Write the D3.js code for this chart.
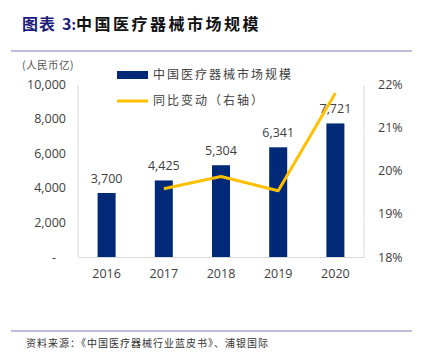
<!DOCTYPE html>
<html>
<head>
<meta charset="utf-8">
<script src="https://cdn.jsdelivr.net/npm/d3@7/dist/d3.min.js"></script>
<style>
  body { margin: 0; background: #fff; }
  svg { display: block; }
</style>
</head>
<body>
<svg id="chart"></svg>
<script>
const years = ['2016', '2017', '2018', '2019', '2020'];
const marketSize = [3700, 4425, 5304, 6341, 7721];
const growthYears = ['2017', '2018', '2019', '2020'];
const growthRate = [19.58, 19.86, 19.53, 21.79];
const leftTicks = [0, 2000, 4000, 6000, 8000, 10000];
const rightTicks = [18, 19, 20, 21, 22];

const width = 424;
const height = 361;
const svg = d3.select('#chart').attr('width', width).attr('height', height);
const latin = "'Open Sans', 'Liberation Sans', sans-serif";
const cjk = "'Noto Sans CJK SC', sans-serif";

// title
const title = svg.append('text').attr('x', 22).attr('y', 30)
  .attr('font-family', cjk).attr('font-size', 16).attr('font-weight', 'bold');
title.append('tspan').attr('fill', '#1c1c78').attr('letter-spacing', 1).text('图表');
title.append('tspan').attr('fill', '#1c1c78').attr('dx', 6).text('3');
title.append('tspan').attr('fill', '#1c1c78').attr('font-size', 14).text(':');
title.append('tspan').attr('fill', '#111').attr('letter-spacing', 2.5).text('中国医疗器械市场规模');

svg.append('line').attr('x1', 11).attr('x2', 412).attr('y1', 51).attr('y2', 51)
  .attr('stroke', '#a8a6cc').attr('stroke-width', 1.5);
svg.append('line').attr('x1', 11).attr('x2', 412).attr('y1', 331).attr('y2', 331)
  .attr('stroke', '#a8a6cc').attr('stroke-width', 1.5);
svg.append('text').attr('x', 26).attr('y', 347)
  .attr('font-family', cjk).attr('font-size', 10).attr('fill', '#333').attr('letter-spacing', 1)
  .text('资料来源：《中国医疗器械行业蓝皮书》、浦银国际');

const plotLeft = 78;
const plotRight = 364;
const plotTop = 84;
const plotBottom = 257;

const x = d3.scaleBand().domain(years).range([plotLeft, plotRight]).paddingInner(0.685).paddingOuter(0.3425);
const y = d3.scaleLinear().domain([0, 10000]).range([plotBottom, plotTop]);
const y2 = d3.scaleLinear().domain([18, 22]).range([plotBottom, plotTop]);

// frame lines
svg.append('line').attr('x1', plotLeft).attr('x2', plotLeft).attr('y1', plotTop + 1).attr('y2', plotBottom)
  .attr('stroke', '#d9d9d9');
svg.append('line').attr('x1', plotRight).attr('x2', plotRight).attr('y1', plotTop + 1).attr('y2', plotBottom)
  .attr('stroke', '#d9d9d9');

const axisLeft = d3.axisLeft(y).tickValues(leftTicks).tickSize(0).tickPadding(12)
  .tickFormat(d => (d === 0 ? '-' : d3.format(',')(d)));
const gl = svg.append('g').attr('transform', `translate(${plotLeft},0)`).call(axisLeft);
gl.select('.domain').remove();
gl.selectAll('text').attr('font-family', latin).attr('font-size', 12.5).attr('fill', '#404040');
gl.selectAll('text').filter(d => d === 0).attr('dx', -10);

const axisRight = d3.axisRight(y2).tickValues(rightTicks).tickSize(0).tickPadding(14)
  .tickFormat(d => `${d}%`);
const gr = svg.append('g').attr('transform', `translate(${plotRight},0)`).call(axisRight);
gr.select('.domain').remove();
gr.selectAll('text').attr('font-family', latin).attr('font-size', 12.5).attr('fill', '#404040');

const axisBottom = d3.axisBottom(x).tickSize(0).tickPadding(12);
const gb = svg.append('g').attr('transform', `translate(0,${plotBottom})`).call(axisBottom);
gb.select('.domain').attr('stroke', '#d9d9d9');
gb.selectAll('text').attr('font-family', latin).attr('font-size', 12.5).attr('fill', '#404040');

svg.append('text').attr('x', 22).attr('y', 69)
  .attr('font-family', cjk).attr('font-size', 10.5).attr('fill', '#555').attr('letter-spacing', 0.5)
  .text('(人民币亿)');

// bars
svg.selectAll('rect.bar').data(years).enter().append('rect')
  .attr('class', 'bar')
  .attr('x', d => x(d))
  .attr('width', x.bandwidth())
  .attr('y', (d, i) => y(marketSize[i]))
  .attr('height', (d, i) => plotBottom - y(marketSize[i]))
  .attr('fill', '#002a78');

svg.selectAll('text.val').data(years).enter().append('text')
  .attr('class', 'val')
  .attr('x', d => x(d) + x.bandwidth() / 2)
  .attr('y', (d, i) => y(marketSize[i]) - 10)
  .attr('text-anchor', 'middle')
  .attr('font-family', latin).attr('font-size', 12.5).attr('fill', '#404040')
  .text((d, i) => d3.format(',')(marketSize[i]));

// line
const lineData = growthYears.map((d, i) => ({ year: d, value: growthRate[i] }));
const line = d3.line()
  .x(d => x(d.year) + x.bandwidth() / 2)
  .y(d => y2(d.value));
svg.append('path').datum(lineData)
  .attr('d', line)
  .attr('fill', 'none')
  .attr('stroke', '#ffc000')
  .attr('stroke-width', 3)
  .attr('stroke-linejoin', 'round');

// legend
svg.append('rect').attr('x', 117).attr('y', 71).attr('width', 31).attr('height', 8).attr('fill', '#002a78');
svg.append('text').attr('x', 153).attr('y', 79)
  .attr('font-family', cjk).attr('font-size', 12).attr('fill', '#404040').attr('letter-spacing', 2)
  .text('中国医疗器械市场规模');
svg.append('line').attr('x1', 117).attr('x2', 148).attr('y1', 101).attr('y2', 101)
  .attr('stroke', '#ffc000').attr('stroke-width', 3);
svg.append('text').attr('x', 153).attr('y', 105)
  .attr('font-family', cjk).attr('font-size', 12).attr('fill', '#404040').attr('letter-spacing', 2)
  .text('同比变动（右轴）');
</script>
</body>
</html>
